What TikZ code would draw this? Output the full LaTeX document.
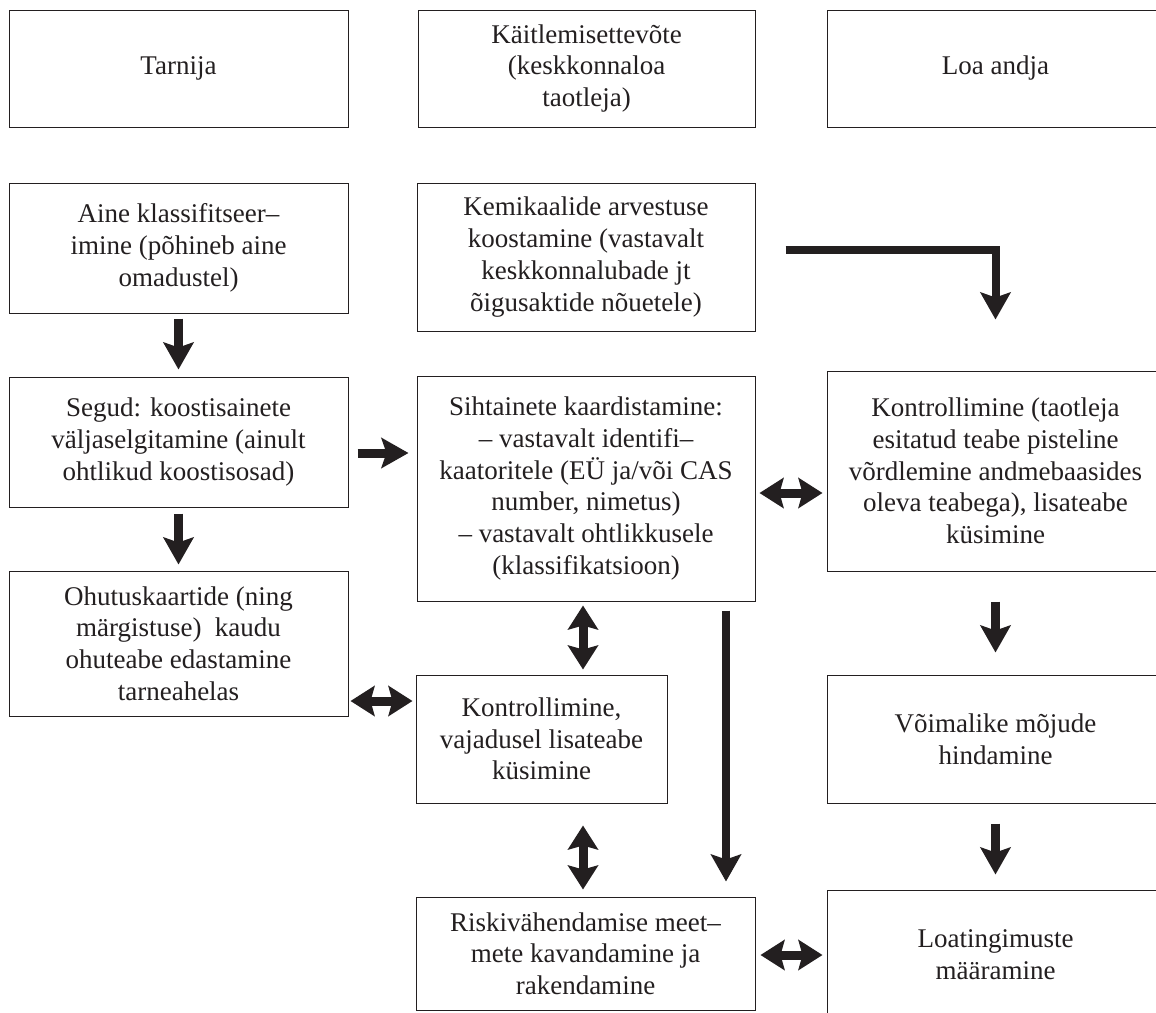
\documentclass[tikz,border=0pt]{standalone}
\usepackage{fontspec}
\setmainfont{Liberation Serif}
\usetikzlibrary{arrows.meta,calc}
\definecolor{ink}{HTML}{231F20}
\begin{document}
\begin{tikzpicture}[x=1pt,y=-1pt,
  box/.style={draw=ink, line width=1pt, text=ink, align=center, inner sep=0pt,
              font=\fontsize{27}{31.7}\selectfont},
  onehead/.style={-{Stealth[length=27pt,width=30pt,inset=5pt]}},
  twohead/.style={{Stealth[length=24pt,width=30pt,inset=4pt]}-{Stealth[length=24pt,width=30pt,inset=4pt]}},
  conn/.style={draw=ink, line width=9pt}]

% page frame
\useasboundingbox (0,0) rectangle (1156,1012);
\fill[white] (0,0) rectangle (1156,1012);
\clip (0,0) rectangle (1156,1012);

% column headers
\node[box, minimum width=339pt, minimum height=117pt] (tarnija) at (178.5,68.5) {Tarnija};
\node[box, minimum width=337pt, minimum height=117pt] (kaitl) at (586.5,68.5)
  {Käitlemisettevõte\\(keskkonnaloa\\taotleja)};
\node[box, minimum width=337pt, minimum height=117pt] (loa) at (995.5,68.5) {Loa andja};

% supplier column
\node[box, minimum width=339pt, minimum height=130pt] (aine) at (178.5,248)
  {Aine klassifitseer–\\imine (põhineb aine\\omadustel)};
\node[box, minimum width=339pt, minimum height=130pt] (segud) at (178.5,442)
  {Segud: koostisainete\\väljaselgitamine (ainult\\ohtlikud koostisosad)};
\node[box, minimum width=339pt, minimum height=145pt] (ohutus) at (178.5,643.5)
  {Ohutuskaartide (ning\\märgistuse)\ \ kaudu\\ohuteabe edastamine\\tarneahelas};

% operator column
\node[box, minimum width=338pt, minimum height=148pt] (kemik) at (586,257)
  {Kemikaalide arvestuse\\koostamine (vastavalt\\keskkonnalubade jt\\õigusaktide nõuetele)};
\node[box, minimum width=338pt, minimum height=225pt] (siht) at (586,488.5)
  {Sihtainete kaardistamine:\\– vastavalt identifi–\\kaatoritele (EÜ ja/või CAS\\number, nimetus)\\– vastavalt ohtlikkusele\\(klassifikatsioon)};
\node[box, minimum width=251pt, minimum height=128pt] (kontr1) at (541.5,739)
  {Kontrollimine,\\vajadusel lisateabe\\küsimine};
\node[box, minimum width=339pt, minimum height=113pt] (risk) at (585.5,953.5)
  {Riskivähendamise meet–\\mete kavandamine ja\\rakendamine};

% authority column
\node[box, minimum width=337pt, minimum height=200pt] (kontr2) at (995.5,471)
  {Kontrollimine (taotleja\\esitatud teabe pisteline\\võrdlemine andmebaasides\\oleva teabega), lisateabe\\küsimine};
\node[box, minimum width=337pt, minimum height=128pt] (voim) at (995.5,739)
  {Võimalike mõjude\\hindamine};
\node[box, minimum width=337pt, minimum height=130pt] (loating) at (995.5,955)
  {Loatingimuste\\määramine};

% helper lines for offset connectors
\coordinate (ys) at (0,453);
\coordinate (yk) at (0,493);
\coordinate (yo) at (0,701);
\coordinate (yr) at (0,955);
\coordinate (yc) at (0,250);
\coordinate (xm) at (583,0);
\coordinate (xl) at (726,0);

% supplier flow
\draw[conn, onehead, shorten <=5pt, shorten >=7pt] (aine.south) -- (segud.north);
\draw[conn, onehead, shorten <=6pt, shorten >=6pt] (segud.south) -- (ohutus.north);
\draw[conn, onehead, shorten <=9pt, shorten >=8pt] (segud.east |- ys) -- (siht.west |- ys);
\draw[conn, twohead, shorten <=2pt, shorten >=3pt] (ohutus.east |- yo) -- (kontr1.west |- yo);

% operator flow
\draw[conn, twohead, shorten <=4pt, shorten >=5pt] (siht.south -| xm) -- (kontr1.north -| xm);
\draw[conn, twohead, shorten <=22pt, shorten >=7pt] (kontr1.south -| xm) -- (risk.north -| xm);
\draw[conn, line width=8pt, onehead, shorten <=9pt, shorten >=15pt] (siht.south -| xl) -- (risk.north -| xl);
\draw[conn, twohead, shorten <=4pt, shorten >=4pt] (siht.east |- yk) -- (kontr2.west |- yk);
\draw[conn, twohead, shorten <=5pt, shorten >=4pt] (risk.east |- yr) -- (loating.west |- yr);

% authority flow
\draw[conn, line width=8pt, onehead, shorten >=51pt]
  ($(kemik.east |- yc)+(30,0)$) -| (kontr2.north);
\draw[conn, onehead, shorten <=30pt, shorten >=22pt] (kontr2.south) -- (voim.north);
\draw[conn, onehead, shorten <=20pt, shorten >=15pt] (voim.south) -- (loating.north);
\end{tikzpicture}
\end{document}
